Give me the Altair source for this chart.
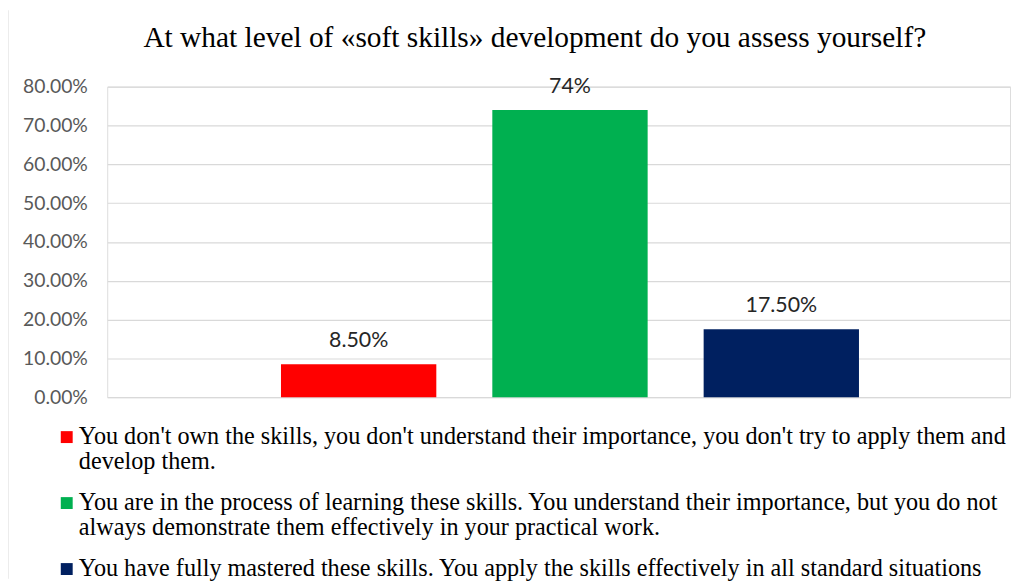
import altair as alt
import pandas as pd

# ---- data ----
legend_labels = [
    "You don't own the skills, you don't understand their importance, you don't try to apply them and|develop them.",
    "You are in the process of learning these skills. You understand their importance, but you do not|always demonstrate them effectively in your practical work.",
    "You have fully mastered these skills. You apply the skills effectively in all standard situations",
]
shares = [0.085, 0.74, 0.175]
value_labels = ["8.50%", "74%", "17.50%"]
colors = ["#FF0000", "#00B050", "#002060"]
y_ticks = [0.0, 0.1, 0.2, 0.3, 0.4, 0.5, 0.6, 0.7, 0.8]
title_text = "At what level of «soft skills» development do you assess yourself?"

df = pd.DataFrame({"label": legend_labels, "share": shares, "text": value_labels})
edge_df = pd.DataFrame({"edge": [0]})

x_enc = alt.X(
    "label:N",
    sort=legend_labels,
    axis=None,
    scale=alt.Scale(paddingInner=0.265, paddingOuter=0.7685, align=0.535),
)
y_enc = alt.Y(
    "share:Q",
    scale=alt.Scale(domain=[0, 0.8]),
    axis=alt.Axis(
        values=y_ticks,
        format=".2%",
        title=None,
        domain=False,
        ticks=False,
        labelPadding=20,
        grid=True,
        gridColor="#d9d9d9",
        gridWidth=1.2,
        labelFont="Lato",
        labelFontSize=19.5,
        labelColor="#595959",
    ),
)

bars = alt.Chart(df).mark_bar().encode(
    x=x_enc,
    y=y_enc,
    color=alt.Color(
        "label:N",
        sort=legend_labels,
        scale=alt.Scale(domain=legend_labels, range=colors),
        legend=alt.Legend(
            orient="none",
            legendX=-53,
            legendY=341,
            direction="vertical",
            title=None,
            labelExpr="split(datum.label, '|')",
            labelFont="Liberation Serif",
            labelFontSize=24.4,
            labelColor="#000000",
            labelLimit=2000,
            symbolType="square",
            symbolSize=144,
            symbolStrokeWidth=0,
            symbolOpacity=1,
            labelOffset=0,
            rowPadding=16.5,
            padding=0,
        ),
    ),
)

labels = alt.Chart(df).mark_text(
    font="Lato", fontSize=21.5, color="#262626", baseline="alphabetic", dy=-17
).encode(x=x_enc, y=y_enc, text="text:N")

border = alt.Chart(edge_df).mark_rule(color="#d9d9d9", strokeWidth=1).encode(
    x=alt.value(-100), y=alt.value(-77), y2=alt.value(496)
)

chart = (
    alt.layer(border, bars, labels)
    .properties(
        width=910,
        height=313,
        autosize=alt.AutoSizeParams(type="none"),
        padding={"left": 100, "top": 77, "right": 2, "bottom": 191},
        title=alt.Title(
            title_text,
            font="Liberation Serif",
            fontSize=29.6,
            fontWeight="normal",
            color="#000000",
            anchor="middle",
            dx=-24,
            offset=-44,
        ),
    )
    .configure_view(stroke=None)
    .configure(style={"guide-label": {"lineHeight": 25}})
)

chart.save("out.html", embed_options={"renderer": "svg", "actions": False})
